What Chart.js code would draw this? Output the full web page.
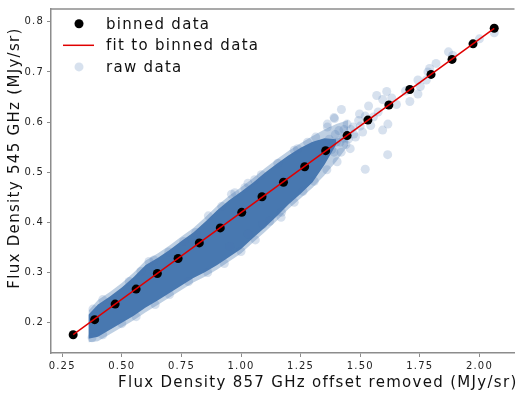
<!DOCTYPE html>
<html>
<head>
<meta charset="utf-8">
<script src="https://cdn.jsdelivr.net/npm/chart.js@4.4.1/dist/chart.umd.min.js"></script>
<style>
  html, body { margin: 0; padding: 0; background: #fff; }
</style>
</head>
<body>
<canvas id="fluxChart" width="519" height="394"></canvas>
<script>

// binned means, 857 GHz (offset removed) vs 545 GHz
const binX = [0.296, 0.386, 0.472, 0.560, 0.649, 0.736, 0.825, 0.913, 1.003, 1.088, 1.178,
              1.267, 1.355, 1.445, 1.532, 1.620, 1.708, 1.797, 1.885, 1.973, 2.062];
const binY = [0.176, 0.206, 0.237, 0.267, 0.298, 0.328, 0.359, 0.389, 0.420, 0.451, 0.480,
              0.511, 0.543, 0.573, 0.604, 0.634, 0.665, 0.695, 0.725, 0.756, 0.787];

// straight line fitted to the bins
const fitX = [0.296, 2.062];
const fitY = [0.176, 0.787];

// outline of the pixel cloud: solid core and the thin faint edge around it
const bandX = [0.36, 0.40, 0.45, 0.50, 0.55, 0.60, 0.65, 0.70, 0.75, 0.80, 0.85, 0.90,
               0.95, 1.00, 1.05, 1.10, 1.15, 1.20, 1.25, 1.30, 1.35, 1.40, 1.45];
const coreTop = [0.216, 0.236, 0.252, 0.270, 0.291, 0.315, 0.329, 0.345, 0.363, 0.380, 0.401,
                 0.424, 0.444, 0.461, 0.479, 0.499, 0.517, 0.534, 0.549, 0.561, 0.568, 0.566];
const coreBottom = [0.168, 0.172, 0.186, 0.200, 0.214, 0.230, 0.244, 0.259, 0.274, 0.289, 0.301,
                    0.315, 0.331, 0.347, 0.369, 0.390, 0.412, 0.436, 0.457, 0.480, 0.515, 0.556];
const haloTop = [0.224, 0.245, 0.261, 0.279, 0.300, 0.324, 0.338, 0.354, 0.372, 0.389, 0.410, 0.433,
                 0.453, 0.470, 0.488, 0.508, 0.526, 0.543, 0.558, 0.572, 0.585, 0.596, 0.604];
const haloBottom = [0.161, 0.163, 0.177, 0.191, 0.205, 0.221, 0.235, 0.250, 0.265, 0.280, 0.292, 0.306,
                    0.322, 0.338, 0.360, 0.381, 0.403, 0.427, 0.448, 0.469, 0.494, 0.522, 0.554];

// single pixels outside the dense part
const rawPairs = [
  [2.062, 0.778], [2.000, 0.766], [1.888, 0.733], [1.870, 0.740], [1.818, 0.717], [1.791, 0.707],
  [1.784, 0.700], [1.742, 0.684], [1.777, 0.684], [1.752, 0.671], [1.742, 0.656], [1.708, 0.641],
  [1.690, 0.662], [1.611, 0.661], [1.569, 0.653], [1.594, 0.645], [1.632, 0.648], [1.652, 0.635],
  [1.535, 0.632], [1.497, 0.616], [1.521, 0.612], [1.493, 0.603], [1.421, 0.625], [1.616, 0.596],
  [1.594, 0.584], [1.544, 0.593], [1.615, 0.535], [1.521, 0.506], [1.458, 0.547], [1.392, 0.607],
  [1.362, 0.596], [1.445, 0.596], [1.473, 0.576], [1.410, 0.583], [1.460, 0.585], [1.500, 0.592],
  [1.480, 0.570], [1.430, 0.568], [1.400, 0.560], [1.555, 0.610], [1.575, 0.620], [1.510, 0.580],
  [1.440, 0.555], [1.380, 0.545], [1.420, 0.540], [1.330, 0.530], [1.350, 0.556], [1.370, 0.566],
  [1.390, 0.540], [1.415, 0.560], [1.450, 0.566], [1.470, 0.590], [1.432, 0.585], [1.395, 0.575],
  [1.092, 0.396], [1.120, 0.402], [1.030, 0.377], [0.953, 0.352], [1.170, 0.420],
  [0.379, 0.227], [0.420, 0.246], [0.531, 0.282], [0.580, 0.302], [0.614, 0.322], [0.635, 0.325],
  [0.697, 0.341], [0.760, 0.362], [0.810, 0.380], [0.863, 0.413], [0.919, 0.432], [0.960, 0.456],
  [0.974, 0.459], [1.016, 0.469], [1.029, 0.478], [1.057, 0.485], [1.085, 0.495], [1.154, 0.518],
  [1.223, 0.544], [1.237, 0.547], [1.279, 0.560], [1.313, 0.570], [1.362, 0.590], [1.390, 0.609],
  [0.375, 0.170], [0.420, 0.176], [0.500, 0.198], [0.560, 0.212], [0.640, 0.236], [0.700, 0.256],
  [0.780, 0.282], [0.860, 0.300], [0.930, 0.318], [1.000, 0.342], [1.060, 0.365], [1.168, 0.410],
  [1.223, 0.440], [1.260, 0.462], [1.307, 0.482], [1.360, 0.505], [1.403, 0.521]
];

const xTicks = [0.25, 0.50, 0.75, 1.00, 1.25, 1.50, 1.75, 2.00];
const yTicks = [0.2, 0.3, 0.4, 0.5, 0.6, 0.7, 0.8];

const xTitle = 'Flux Density 857 GHz offset removed (MJy/sr)';
const yTitle = 'Flux Density 545 GHz (MJy/sr)';

const BLUE = 'rgb(72,120,176)';
const BLUE_HALO = 'rgba(72,120,176,0.35)';
const BLUE_FAINT = 'rgba(72,120,176,0.22)';
const SPINE = '#8c8c8c';
const FONT = '"DejaVu Sans", sans-serif';

const pts = (xs, ys) => ys.map((y, i) => ({ x: xs[i], y: y }));

function bandEdge(ys, fill, color) {
  return {
    type: 'line',
    data: pts(bandX, ys),
    borderColor: 'transparent',
    borderWidth: 0,
    backgroundColor: color,
    pointRadius: 0,
    tension: 0,
    fill: fill
  };
}

// spacing, spines, titles and legend drawn straight on the canvas
const decorations = {
  id: 'decorations',
  beforeDraw(chart) {
    chart.ctx.letterSpacing = '1.2px';
  },
  afterDraw(chart) {
    const ctx = chart.ctx;
    const area = chart.chartArea;
    ctx.save();

    // top spine
    ctx.strokeStyle = SPINE;
    ctx.lineWidth = 1.5;
    ctx.beginPath();
    ctx.moveTo(area.left, area.top);
    ctx.lineTo(area.right, area.top);
    ctx.stroke();

    ctx.font = '15px ' + FONT;
    ctx.letterSpacing = '1.3px';
    ctx.fillStyle = '#111';
    ctx.textBaseline = 'alphabetic';

    // axis titles
    ctx.textAlign = 'left';
    ctx.fillText(xTitle, 118, 387);
    ctx.save();
    ctx.translate(19, 158);
    ctx.rotate(-Math.PI / 2);
    ctx.textAlign = 'center';
    ctx.fillText(yTitle, 0, 0);
    ctx.restore();

    // legend
    const rows = ['binned data', 'fit to binned data', 'raw data'];
    rows.forEach((label, i) => {
      const ds = chart.data.datasets.find(d => d.label === label);
      const cy = 23.7 + i * 21.6;
      if (ds.type === 'line') {
        ctx.strokeStyle = ds.borderColor;
        ctx.lineWidth = ds.borderWidth;
        ctx.beginPath();
        ctx.moveTo(63, cy);
        ctx.lineTo(94, cy);
        ctx.stroke();
      } else {
        ctx.fillStyle = ds.backgroundColor;
        ctx.beginPath();
        ctx.arc(79, cy, ds.pointRadius, 0, Math.PI * 2);
        ctx.fill();
      }
      ctx.fillStyle = '#111';
      ctx.textAlign = 'left';
      ctx.fillText(label, 106, cy + 5);
    });
    ctx.restore();
  }
};

const ctx = document.getElementById('fluxChart').getContext('2d');

new Chart(ctx, {
  type: 'scatter',
  data: {
    datasets: [
      {
        type: 'line',
        label: 'fit to binned data',
        data: pts(fitX, fitY),
        borderColor: '#e00000',
        borderWidth: 1.5,
        pointRadius: 0,
        fill: false
      },
      {
        label: 'binned data',
        data: pts(binX, binY),
        backgroundColor: '#000',
        borderWidth: 0,
        pointRadius: 4.5
      },
      {
        label: 'raw data',
        data: rawPairs.map(p => ({ x: p[0], y: p[1] })),
        backgroundColor: BLUE_FAINT,
        borderWidth: 0,
        pointRadius: 4.5
      },
      bandEdge(coreTop, '+1', BLUE),
      bandEdge(coreBottom, false, BLUE),
      bandEdge(haloTop, '+1', BLUE_HALO),
      bandEdge(haloBottom, false, BLUE_HALO)
    ]
  },
  options: {
    responsive: false,
    animation: false,
    events: [],
    layout: { padding: { top: 3, right: 0, left: 0, bottom: 0 } },
    plugins: {
      legend: { display: false },
      tooltip: { enabled: false }
    },
    scales: {
      x: {
        type: 'linear',
        min: 0.203,
        max: 2.147,
        afterFit: s => { s.height = 41; },
        afterBuildTicks: s => { s.ticks = xTicks.map(v => ({ value: v })); },
        border: { display: true, color: SPINE, width: 1.5 },
        grid: { drawOnChartArea: false, drawTicks: true, tickLength: 4, tickColor: SPINE, tickWidth: 1 },
        ticks: {
          color: '#222',
          font: { family: FONT, size: 10 },
          padding: 3,
          maxRotation: 0,
          callback: v => v.toFixed(2)
        }
      },
      y: {
        type: 'linear',
        min: 0.1395,
        max: 0.8255,
        afterFit: s => { s.width = 51; },
        afterBuildTicks: s => { s.ticks = yTicks.map(v => ({ value: v })); },
        border: { display: true, color: SPINE, width: 1.5 },
        grid: { drawOnChartArea: false, drawTicks: true, tickLength: 4, tickColor: SPINE, tickWidth: 1 },
        ticks: {
          color: '#222',
          font: { family: FONT, size: 10 },
          padding: 3,
          callback: v => v.toFixed(1)
        }
      }
    }
  },
  plugins: [decorations]
});
</script>
</body>
</html>
